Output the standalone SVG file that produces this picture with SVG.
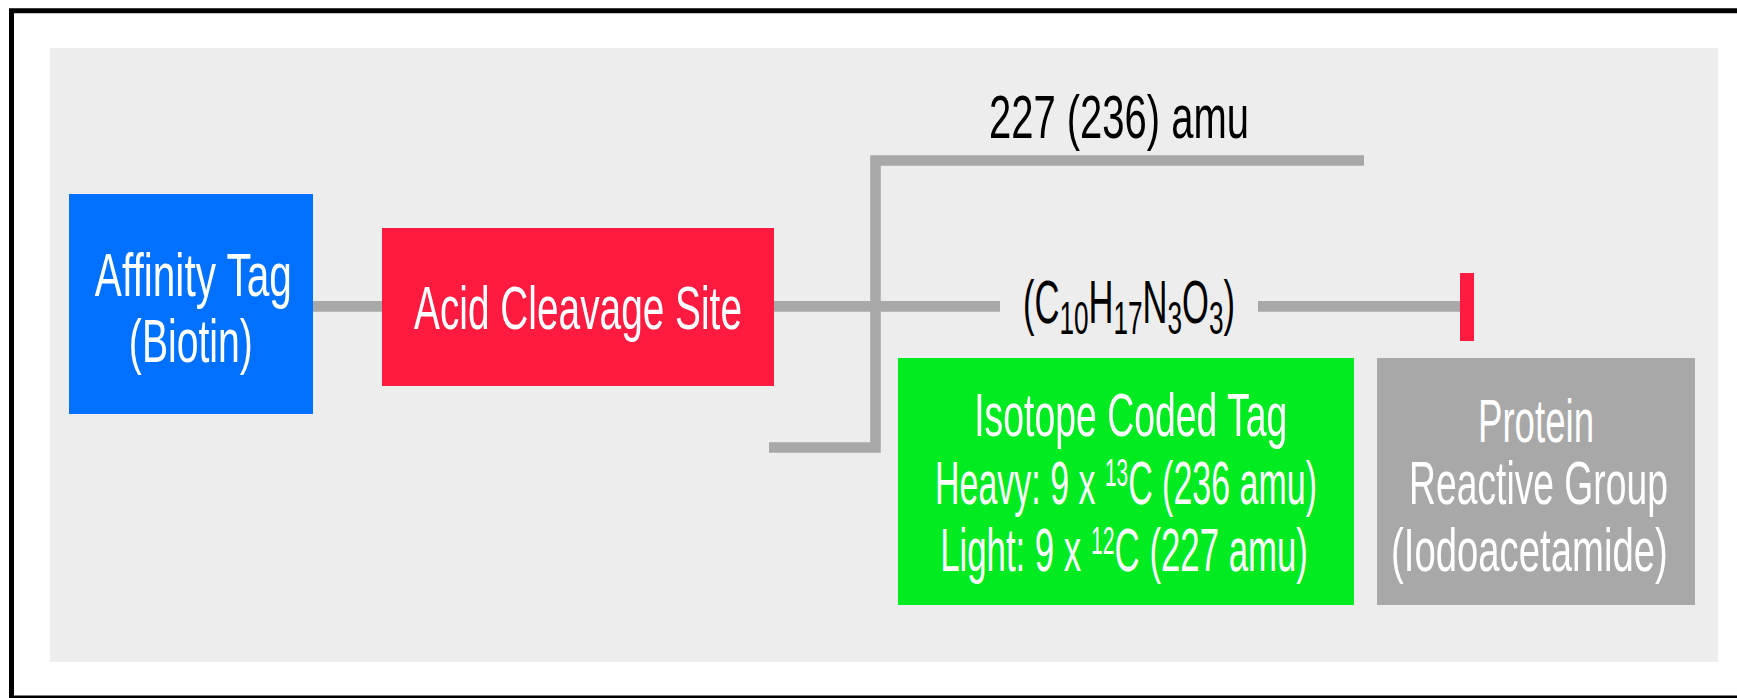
<svg xmlns="http://www.w3.org/2000/svg" width="1737" height="698" viewBox="0 0 1737 698">
  <style>
    .lbl { font-family: "Liberation Sans", Arial, sans-serif; font-size: 62px; text-anchor: middle; }
    .w { fill: #ffffff; }
    .k { fill: #000000; }
    .sub { font-size: 47px; }
    .sup { font-size: 38px; }
    .wire { fill: none; stroke: #a8a8a8; stroke-width: 10.6; stroke-linecap: butt; stroke-linejoin: miter; }
  </style>

  <!-- page and frame -->
  <rect x="0" y="0" width="1737" height="698" fill="#ffffff"/>
  <rect x="11.5" y="10.75" width="1800" height="687.25" fill="none" stroke="#000000" stroke-width="5"/>
  <rect x="50" y="48" width="1668" height="614" fill="#ededed"/>

  <!-- connectors -->
  <g id="connectors">
    <line class="wire" x1="313" y1="306.4" x2="382" y2="306.4"/>
    <line class="wire" x1="774" y1="306.4" x2="1000" y2="306.4"/>
    <line class="wire" x1="1258" y1="306.4" x2="1460" y2="306.4"/>
    <path class="wire" d="M1364,160.5 H875.5 V447.5 H769" stroke-width="10"/>
    <rect x="1460" y="273" width="14" height="68" fill="#ff1a40"/>
  </g>

  <!-- mass label above the bracket (condensed lettering via horizontal scale) -->
  <g id="mass-label">
    <text class="lbl k" transform="translate(1119,137.7) scale(0.645,1)">227 (236) amu</text>
  </g>

  <!-- elemental formula on the linker -->
  <g id="formula">
    <text class="lbl k" transform="translate(1129,323.3) scale(0.557,1)">(C<tspan class="sub" dy="11">10</tspan><tspan dy="-11">H</tspan><tspan class="sub" dy="11">17</tspan><tspan dy="-11">N</tspan><tspan class="sub" dy="11">3</tspan><tspan dy="-11">O</tspan><tspan class="sub" dy="11">3</tspan><tspan dy="-11">)</tspan></text>
  </g>

  <g id="affinity-tag">
    <rect x="69" y="194" width="244" height="220" fill="#0070ff"/>
    <text class="lbl w" transform="translate(193.4,295.7) scale(0.655,1)">Affinity Tag</text>
    <text class="lbl w" transform="translate(190.8,362.3) scale(0.631,1)">(Biotin)</text>
  </g>

  <g id="acid-cleavage-site">
    <rect x="382" y="228" width="392" height="158" fill="#ff1a40"/>
    <text class="lbl w" transform="translate(578,329) scale(0.626,1)">Acid Cleavage Site</text>
  </g>

  <g id="isotope-coded-tag">
    <rect x="898" y="358" width="456" height="247" fill="#00eb20"/>
    <text class="lbl w" transform="translate(1130.8,435.7) scale(0.603,1)">Isotope Coded Tag</text>
    <text class="lbl w" transform="translate(1126,503.7) scale(0.548,1)">Heavy: 9 x <tspan class="sup" dy="-17.7">13</tspan><tspan dy="17.7">C (236 amu)</tspan></text>
    <text class="lbl w" transform="translate(1124,571.3) scale(0.561,1)">Light: 9 x <tspan class="sup" dy="-17.7">12</tspan><tspan dy="17.7">C (227 amu)</tspan></text>
  </g>

  <g id="protein-reactive-group">
    <rect x="1377" y="358" width="318" height="247" fill="#a8a8a8"/>
    <text class="lbl w" transform="translate(1536,441.7) scale(0.591,1)">Protein</text>
    <text class="lbl w" transform="translate(1538.5,504) scale(0.601,1)">Reactive Group</text>
    <text class="lbl w" transform="translate(1529.4,570.8) scale(0.618,1)">(Iodoacetamide)</text>
  </g>
</svg>
